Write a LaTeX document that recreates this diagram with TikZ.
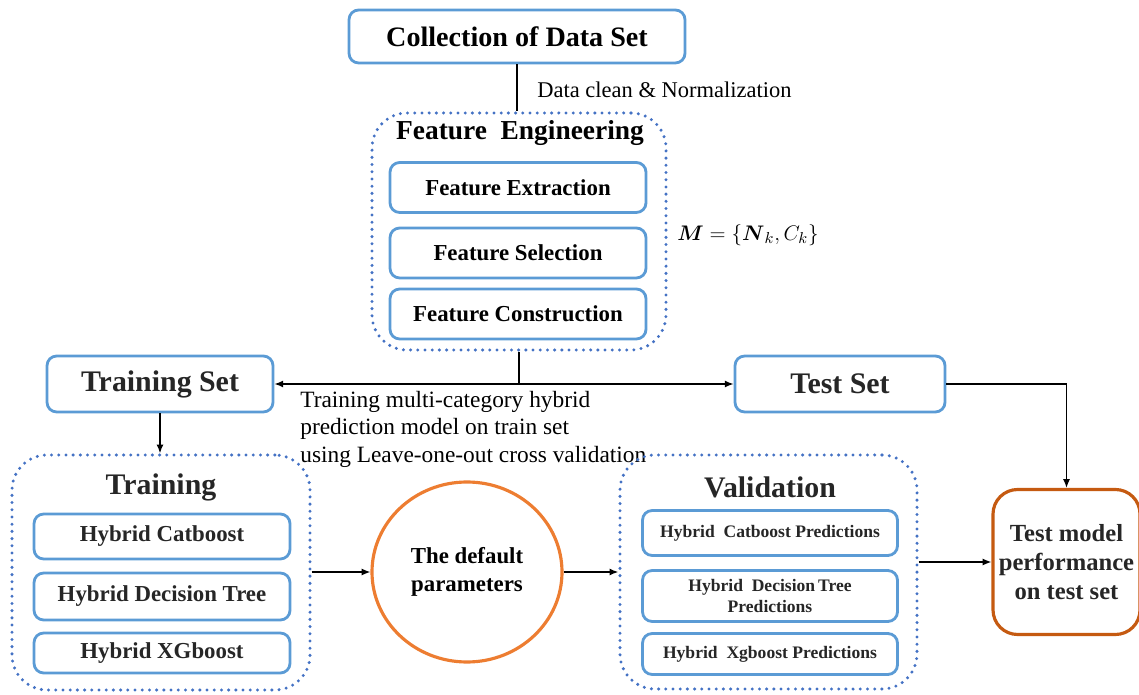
\documentclass[tikz,border=0pt]{standalone}
\usepackage{amsmath}
\usepackage{fontspec}
\setmainfont{Liberation Serif}
\usetikzlibrary{arrows.meta,shapes.geometric}

\newlength\pxl
\setlength\pxl{0.02cm}

\definecolor{boxblue}{HTML}{5B9BD5}
\definecolor{dotblue}{HTML}{4472C4}
\definecolor{circorange}{HTML}{ED7D31}
\definecolor{testorange}{HTML}{C55A11}
\definecolor{ink}{HTML}{262626}

\newcommand{\fsz}[2]{\fontsize{#1}{#2}\selectfont}

\tikzset{
  bluebox/.style={draw=boxblue, line width=1.6pt, rounded corners=5.5pt, fill=white,
    inner sep=0pt, align=center, font=\bfseries\fsz{13}{15}},
  groupbox/.style={draw=dotblue, line width=1.9pt, line cap=round,
    dash pattern=on 0pt off 4.1pt, rounded corners=20pt, inner sep=0pt},
  grouptitle/.style={font=\bfseries\fsz{17}{20}, inner sep=0pt},
  arr/.style={-{Latex[length=5pt,width=4pt]}, line width=0.8pt},
  link/.style={line width=0.8pt},
}

\begin{document}
\begin{tikzpicture}[x=0.02cm, y=-0.02cm]
\useasboundingbox (0,0) rectangle (1139,695);

% --- data collection and feature engineering ---
\node[bluebox, font=\bfseries\fsz{16}{19}, minimum width=336\pxl, minimum height=53\pxl]
  (coll) at (517,36.5) {Collection of Data Set};
\node[anchor=west, font=\fsz{12.8}{15}, inner sep=0pt] (clean) at (537,90)
  {Data clean \& Normalization};

\node[groupbox, minimum width=294\pxl, minimum height=237\pxl] (fe) at (519,231.5) {};
\node[grouptitle, font=\bfseries\fsz{15.6}{19}] (fetitle) at (520,133) {Feature\enspace Engineering};
\node[bluebox, minimum width=256\pxl, minimum height=50\pxl] (fx) at (518,187.5) {Feature Extraction};
\node[bluebox, minimum width=256\pxl, minimum height=50\pxl] (fs) at (518,253) {Feature Selection};
\node[bluebox, minimum width=256\pxl, minimum height=50\pxl] (fc) at (518,314) {Feature Construction};
\node[font=\fsz{13}{16}, inner sep=0pt] (mset) at (748,235)
  {$\boldsymbol{M}=\{\boldsymbol{N}_k, C_k\}$};

\draw[link] (coll.south) -- (coll.south |- fe.north);

% --- split into training and test sets ---
\node[bluebox, text=ink, font=\bfseries\fsz{17}{20}, minimum width=226\pxl, minimum height=56\pxl]
  (trainset) at (160,384) {Training Set};
\node[bluebox, text=ink, font=\bfseries\fsz{17}{20}, minimum width=210\pxl, minimum height=56\pxl]
  (testset) at (840,384) {Test Set};
\coordinate (split) at (fe.south |- trainset.east);
\draw[link] (fe.south) -- (split);
\draw[arr] (split) -- (trainset.east);
\draw[arr] (split) -- (testset.west);
\node[anchor=north west, align=left, inner sep=0pt, font=\fsz{13.3}{15.6}] (desc) at (300,391)
  {Training multi-category hybrid\\prediction model on train set\\using Leave-one-out cross validation};

% --- training group ---
\node[groupbox, minimum width=298\pxl, minimum height=235\pxl] (traingrp) at (161,572.5) {};
\node[grouptitle, text=ink] (traintitle) at (161,487) {Training};
\node[bluebox, text=ink, minimum width=256\pxl, minimum height=45\pxl] (tc) at (162,536.5) {Hybrid Catboost};
\node[bluebox, text=ink, minimum width=256\pxl, minimum height=47\pxl] (td) at (162,596.5) {Hybrid Decision Tree};
\node[bluebox, text=ink, minimum width=256\pxl, minimum height=40\pxl] (tx) at (162,653) {Hybrid XGboost};

% --- default parameters ---
\node[ellipse, draw=circorange, line width=1.8pt, minimum width=190\pxl, minimum height=180\pxl,
  inner sep=0pt, align=center, font=\bfseries\fsz{13}{16}] (circ) at (467,572)
  {The default\\parameters};

% --- validation group ---
\node[groupbox, minimum width=297\pxl, minimum height=234\pxl] (valgrp) at (768.5,572) {};
\node[grouptitle, text=ink] (valtitle) at (770,487) {Validation};
\node[bluebox, text=ink, font=\bfseries\fsz{10}{12}, minimum width=255\pxl, minimum height=45\pxl]
  (vc) at (770,533) {Hybrid\enspace Catboost Predictions};
\node[bluebox, text=ink, font=\bfseries\fsz{10}{12}, minimum width=255\pxl, minimum height=51\pxl]
  (vd) at (770,596) {Hybrid\enspace Decision\,Tree\\Predictions};
\node[bluebox, text=ink, font=\bfseries\fsz{10}{12}, minimum width=255\pxl, minimum height=41\pxl]
  (vx) at (770,654) {Hybrid\enspace Xgboost Predictions};

% --- test model performance ---
\node[draw=testorange, line width=1.8pt, rounded corners=14pt, minimum width=147\pxl,
  minimum height=145\pxl, inner sep=0pt, align=center, text=ink, font=\bfseries\fsz{14}{16.5}]
  (testmodel) at (1066.5,562) {Test model\\performance\\on test set};

% --- flow arrows ---
\draw[arr] (trainset.south) -- (trainset.south |- traingrp.north);
\draw[arr] (traingrp.east |- circ.west) -- (circ.west);
\draw[arr] (circ.east) -- (circ.east -| valgrp.west);
\draw[arr] (testmodel.west -| valgrp.east) -- (testmodel.west);
\draw[arr] (testset.east) -| (testmodel.north);
\end{tikzpicture}
\end{document}
